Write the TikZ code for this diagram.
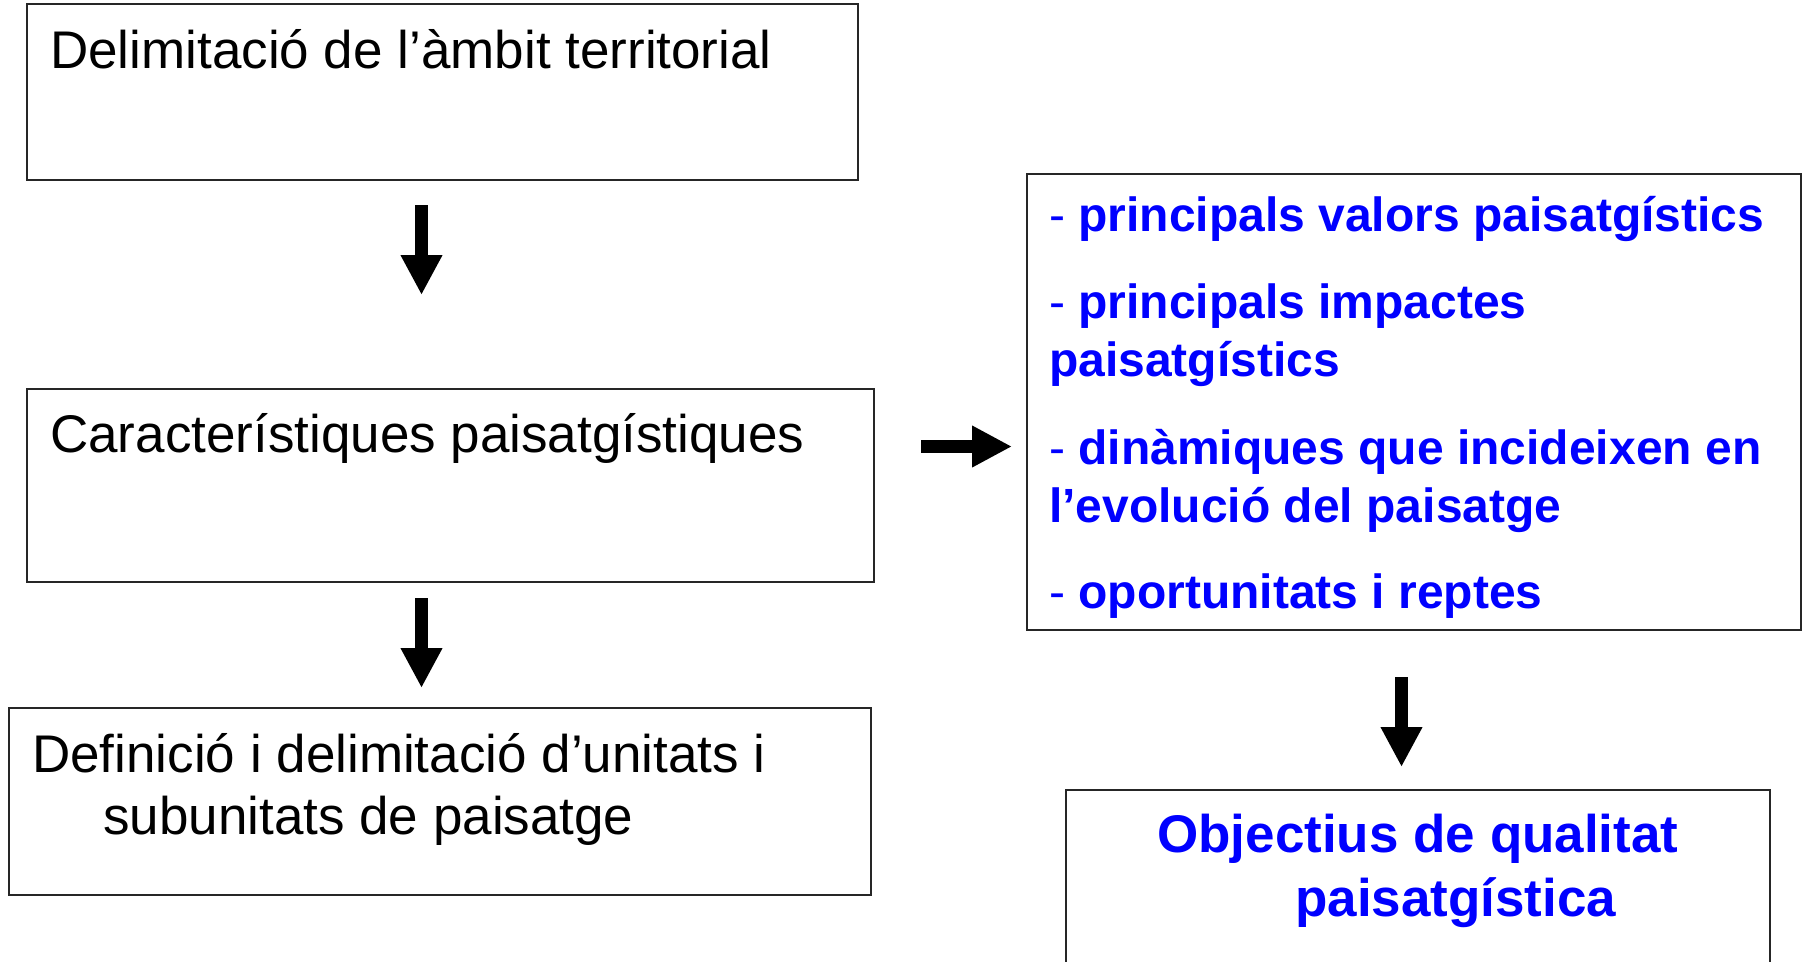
\documentclass[tikz,border=0pt]{standalone}
\usepackage{fontspec}
\setmainfont{Liberation Sans}
\usetikzlibrary{arrows.meta}
\newcommand{\dsh}{{\mdseries -} }
\begin{document}
\begin{tikzpicture}[x=1pt,y=-1pt,
  box/.style={draw=black!85, line width=1.6pt, inner sep=0pt},
  reg/.style={anchor=base west, inner sep=0pt, font=\fontsize{53}{62}\selectfont},
  blu/.style={anchor=base west, inner sep=0pt, text=blue, font=\fontsize{48}{58}\selectfont\bfseries},
  ttl/.style={anchor=base west, inner sep=0pt, text=blue, font=\fontsize{53}{64}\selectfont\bfseries},
  bigarrow/.style={line width=13pt, -{Triangle[length=40pt,width=39pt]}}]
\useasboundingbox (0,0) rectangle (1803,961);
\clip (0,0) rectangle (1803,961);
% boxes
\node[box, minimum width=831pt, minimum height=176pt] (b1) at (442.5,92) {};
\node[box, minimum width=847pt, minimum height=193pt] (b2) at (450.5,485.5) {};
\node[box, minimum width=862pt, minimum height=187pt] (b3) at (440,801.5) {};
\node[box, minimum width=774pt, minimum height=456pt] (b4) at (1414,402) {};
\node[box, minimum width=704pt, minimum height=210pt] (b5) at (1418,895) {};
% texts
\node[reg] (t1) at (50,68) {Delimitació de l’àmbit territorial};
\node[reg] (t2) at (50,452) {Característiques paisatgístiques};
\node[reg] (t3a) at (32,772) {Definició i delimitació d’unitats i};
\node[reg] (t3b) at (103,834) {subunitats de paisatge};
\node[blu] (r1) at (1049,231) {\dsh principals valors paisatgístics};
\node[blu] (r2) at (1049,318) {\dsh principals impactes};
\node[blu] (r3) at (1049,376) {paisatgístics};
\node[blu] (r4) at (1049,464) {\dsh dinàmiques que incideixen en};
\node[blu] (r5) at (1049,522) {l’evolució del paisatge};
\node[blu] (r6) at (1049,608) {\dsh oportunitats i reptes};
\node[ttl] (o1) at (1157,852) {Objectius de qualitat};
\node[ttl] (o2) at (1295,916) {paisatgística};
% arrows
\coordinate (a1s) at (421.5,205);
\coordinate (a1e) at (421.5,295);
\coordinate (a2s) at (421.5,598);
\coordinate (a2e) at (421.5,688);
\coordinate (a3s) at (921,446.5);
\coordinate (a3e) at (1012,446.5);
\coordinate (a4s) at (1401.5,677);
\coordinate (a4e) at (1401.5,767);
\draw[bigarrow] (a1s) -- (a1e);
\draw[bigarrow] (a2s) -- (a2e);
\draw[bigarrow] (a3s) -- (a3e);
\draw[bigarrow] (a4s) -- (a4e);
\end{tikzpicture}
\end{document}
